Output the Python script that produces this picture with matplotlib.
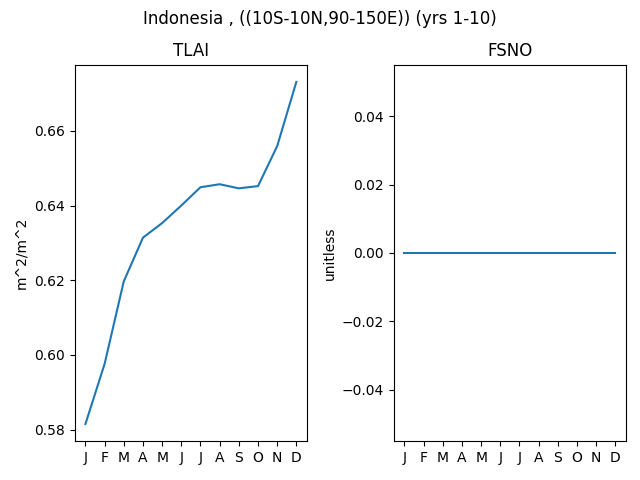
import matplotlib
matplotlib.use("Agg")
import matplotlib.pyplot as plt
import numpy as np

# Meses del ciclo anual
meses = ["J", "F", "M", "A", "M", "J", "J", "A", "S", "O", "N", "D"]

# Valores medios mensuales
tlai = [0.5815, 0.5976, 0.6197, 0.6314, 0.6353, 0.6400,
        0.6449, 0.6457, 0.6446, 0.6452, 0.6559, 0.6731]
fsno = [0.0] * 12

fig, (ax1, ax2) = plt.subplots(1, 2, figsize=(6.4, 4.8))
fig.suptitle("Indonesia , ((10S-10N,90-150E)) (yrs 1-10)")

x = np.arange(len(meses))

ax1.plot(x, tlai)
ax1.set_title("TLAI")
ax1.set_ylabel("m^2/m^2")
ax1.set_xticks(x)
ax1.set_xticklabels(meses)

ax2.plot(x, fsno)
ax2.set_title("FSNO")
ax2.set_ylabel("unitless")
ax2.set_xticks(x)
ax2.set_xticklabels(meses)

# Márgenes ajustados a mano para que quede como el original
fig.subplots_adjust(left=0.117, right=0.978, top=0.865, bottom=0.081, wspace=0.375)
plt.savefig("out.png")
plt.close()
